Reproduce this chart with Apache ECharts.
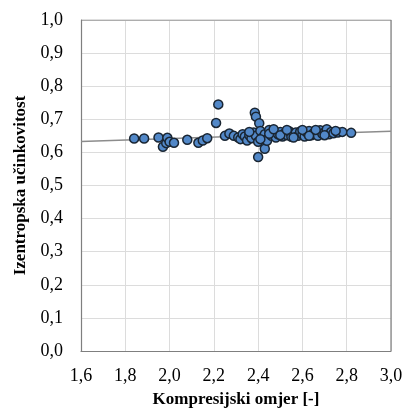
<!DOCTYPE html>
<html>
<head>
<meta charset="utf-8">
<script src="https://cdn.jsdelivr.net/npm/echarts@6/dist/echarts.min.js"></script>
<style>
  html, body { margin: 0; padding: 0; background: #fff; }
  #chart { width: 408px; height: 419px; }
</style>
</head>
<body>
<div id="chart"></div>
<script>
// compression ratio (x) and isentropic efficiency (y)
const omjer = [
  1.84, 1.885, 1.95, 1.97, 1.985, 1.99, 2.0, 2.02, 2.08, 2.13, 2.15, 2.17,
  2.21, 2.22, 2.25, 2.27, 2.29,
  2.31, 2.32, 2.33, 2.34, 2.35, 2.36, 2.37, 2.38, 2.385, 2.39, 2.39, 2.40,
  2.40, 2.405, 2.41, 2.42, 2.43, 2.43, 2.44, 2.44, 2.45, 2.46, 2.47, 2.48,
  2.49, 2.50, 2.51, 2.52, 2.53, 2.54, 2.55, 2.56, 2.57, 2.58, 2.59, 2.60,
  2.61, 2.62, 2.63, 2.64, 2.65, 2.66, 2.67, 2.68, 2.69, 2.70, 2.71, 2.72,
  2.73, 2.74, 2.76, 2.78, 2.82,
  2.36, 2.41, 2.45, 2.47, 2.50, 2.53, 2.56, 2.60, 2.63, 2.66, 2.70, 2.75
];
const ucinkovitost = [
  0.642, 0.642, 0.645, 0.617, 0.628, 0.644, 0.632, 0.629, 0.638, 0.629, 0.636, 0.643,
  0.689, 0.745, 0.650, 0.657, 0.650,
  0.645, 0.640, 0.655, 0.648, 0.636, 0.652, 0.643, 0.660, 0.720, 0.708, 0.650, 0.632,
  0.586, 0.688, 0.665, 0.645, 0.611, 0.655, 0.640, 0.635, 0.668, 0.650, 0.660, 0.645,
  0.655, 0.662, 0.648, 0.658, 0.652, 0.664, 0.647, 0.656, 0.660, 0.650, 0.663, 0.654,
  0.648, 0.660, 0.665, 0.652, 0.658, 0.662, 0.650, 0.667, 0.656, 0.660, 0.670, 0.655,
  0.662, 0.658, 0.660, 0.662, 0.659,
  0.662, 0.640, 0.656, 0.670, 0.652, 0.668, 0.645, 0.668, 0.650, 0.668, 0.652, 0.665
];
// linear trend line endpoints
const trendX = [1.6, 3.0];
const trendY = [0.633, 0.664];

const points = omjer.map((x, i) => [x, ucinkovitost[i]]);
const trend = trendX.map((x, i) => [x, trendY[i]]);

const chart = echarts.init(document.getElementById("chart"));

const fmt = (v) => v.toFixed(1).replace(".", ",");
const font = "'Liberation Serif', 'Times New Roman', serif";

chart.setOption({
  animation: false,
  grid: { left: 81, right: 17, top: 20, bottom: 68 },
  xAxis: {
    type: "value",
    min: 1.6,
    max: 3.0,
    interval: 0.2,
    name: "Kompresijski omjer [-]",
    nameLocation: "middle",
    nameGap: 40,
    nameTextStyle: { fontFamily: font, fontWeight: "bold", fontSize: 17, color: "#000" },
    axisLine: { show: true, lineStyle: { color: "#7f7f7f", width: 1.2 } },
    axisTick: { show: false },
    axisLabel: { formatter: fmt, fontFamily: font, fontSize: 18, color: "#000", margin: 16 },
    splitLine: { show: true, lineStyle: { color: "#dcdcdc", width: 1 } },
  },
  yAxis: {
    type: "value",
    min: 0,
    max: 1.0,
    interval: 0.1,
    name: "Izentropska učinkovitost",
    nameLocation: "middle",
    nameGap: 50,
    nameTextStyle: { fontFamily: font, fontWeight: "bold", fontSize: 17, color: "#000" },
    axisLine: { show: true, lineStyle: { color: "#7f7f7f", width: 1.2 } },
    axisTick: { show: false },
    axisLabel: { formatter: fmt, fontFamily: font, fontSize: 18, color: "#000", margin: 18 },
    splitLine: { show: true, lineStyle: { color: "#dcdcdc", width: 1 } },
  },
  series: [
    {
      type: "line",
      data: trend,
      symbol: "none",
      lineStyle: { color: "#8c8c8c", width: 1.5 },
      z: 1,
    },
    {
      type: "scatter",
      data: points,
      symbolSize: 9,
      itemStyle: { color: "#5288c8", borderColor: "#1a2633", borderWidth: 1.5, opacity: 1 },
      z: 2,
    },
    {
      // right and top border of the plot area
      type: "line",
      data: [[1.6, 1.0], [3.0, 1.0], [3.0, 0]],
      symbol: "none",
      silent: true,
      lineStyle: { color: "#7f7f7f", width: 1.2 },
      z: 0,
    },
  ],
});
</script>
</body>
</html>
